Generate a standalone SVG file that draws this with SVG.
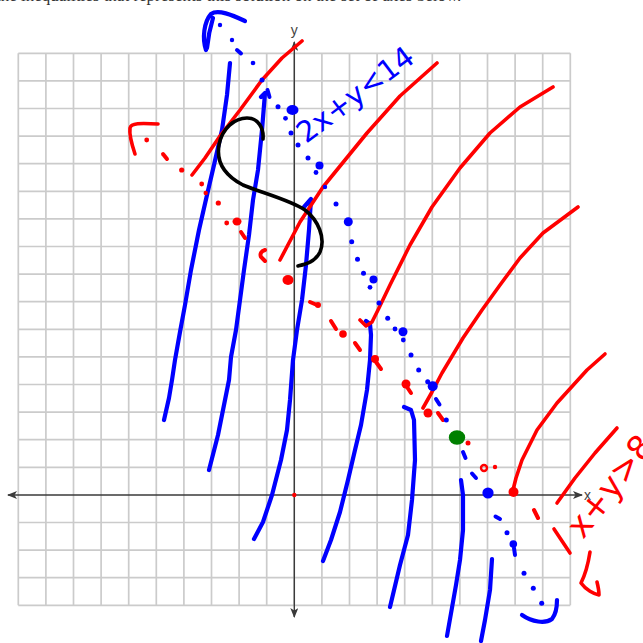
<svg xmlns="http://www.w3.org/2000/svg" width="643" height="643" viewBox="0 0 643 643">
<style>
.grid{stroke:#cbcbcb;stroke-width:1.7;fill:none}
.axis{stroke:#3a3a3a;stroke-width:1.4;fill:none}
.alab{font-family:"Liberation Sans",Arial,sans-serif;font-size:14px;fill:#444}
.blue{stroke:#0000ff;stroke-width:4.2;fill:none;stroke-linecap:round;stroke-linejoin:round}
.red{stroke:#ff0000;stroke-width:3.6;fill:none;stroke-linecap:round;stroke-linejoin:round}
.blk{stroke:#000;stroke-width:3.6;fill:none;stroke-linecap:round;stroke-linejoin:round}
.bd{fill:#0000ff}
.rd{fill:#ff0000}
.bdash{stroke:#0000ff;stroke-width:4;stroke-linecap:round;fill:none}
.rdash{stroke:#ff0000;stroke-width:4;stroke-linecap:round;fill:none}
.hand{font-family:"DejaVu Sans",sans-serif}
</style>
<defs>
<marker id="arr" viewBox="0 0 10 8" refX="9" refY="4" markerWidth="10" markerHeight="8" markerUnits="userSpaceOnUse" orient="auto-start-reverse">
<path d="M0,0 L10,4 L0,8 L2.5,4 z" fill="#3a3a3a"/>
</marker>
</defs>
<rect width="643" height="643" fill="#fff"/>
<text x="-4" y="0.5" font-family="'Liberation Serif',serif" font-size="17" fill="#333">the inequalities that represents this solution on the set of axes below.</text>

<g id="grid">
<path class="grid" d="M18.3,53.3V605.3M45.9,53.3V605.3M73.5,53.3V605.3M101.1,53.3V605.3M128.7,53.3V605.3M156.3,53.3V605.3M183.9,53.3V605.3M211.5,53.3V605.3M239.1,53.3V605.3M266.7,53.3V605.3M321.9,53.3V605.3M349.5,53.3V605.3M377.1,53.3V605.3M404.7,53.3V605.3M432.3,53.3V605.3M459.9,53.3V605.3M487.5,53.3V605.3M515.1,53.3V605.3M542.7,53.3V605.3M570.3,53.3V605.3M294.3,53.3V605.3"/>
<path class="grid" d="M18.3,53.3H570.3M18.3,80.9H570.3M18.3,108.5H570.3M18.3,136.1H570.3M18.3,163.7H570.3M18.3,191.3H570.3M18.3,218.9H570.3M18.3,246.5H570.3M18.3,274.1H570.3M18.3,301.7H570.3M18.3,329.3H570.3M18.3,356.9H570.3M18.3,384.5H570.3M18.3,412.1H570.3M18.3,439.7H570.3M18.3,467.3H570.3M18.3,522.5H570.3M18.3,550.1H570.3M18.3,577.7H570.3M18.3,605.3H570.3"/>
</g>
<g id="axes">
<line class="axis" x1="8" y1="495" x2="582" y2="495" marker-start="url(#arr)" marker-end="url(#arr)"/>
<line class="axis" x1="294.3" y1="42" x2="294.3" y2="617" marker-start="url(#arr)" marker-end="url(#arr)"/>
<text class="alab" x="584" y="500">x</text>
<text class="alab" x="294.3" y="35" text-anchor="middle">y</text>
<circle cx="294.3" cy="495" r="2.2" fill="#ff0000"/>
</g>

<g id="blue-shading">
<polyline class="blue" points="230,63 227,95 222,130 214,165 207,195 199,230 191,270 185,305 180,332 175,360 172,380 169,398 164,420"/>
<polyline class="blue" points="261,97 265,93 262,130 258,170 253,200 249,235 244,270 240,300 236,330 231,357 229,380 224,405 218,435 209,470"/>
<polyline class="blue" points="304,207 311,199 309,230 306,265 302,300 297,330 293,360 290,400 287,430 281,460 272,495 263,522 254,539"/>
<polyline class="blue" points="366,321 370,324 371,335 370,360 367,390 361,425 355,450 348,480 340,512 331,540 323,561"/>
<polyline class="blue" points="404,407 411,410 414,420 415,460 412,500 408,535 400,565 390,607"/>
<polyline class="blue" points="461,480 463,495 463,530 460,560 456,585 447,636"/>
<polyline class="blue" points="492,559 490,590 485,620 481,641"/>
<path class="blue" d="M206,50 C202,38 204,22 211,14 C218,9 232,15 245,21 M213,18 C210,28 208,38 207,48"/>
<path class="blue" d="M522,615 C532,622 545,624 552,619 C556,614 557,606 557,600"/>
</g>

<g id="red-shading">
<polyline class="red" points="192,175 205,158 220,136 240,110 262,80 282,58 302,41"/>
<polyline class="red" points="280,260 300,222 323,187 345,160 367,133 400,96 437,63"/>
<polyline class="red" points="360,320 366,326 372,322 378,310 390,285 410,245 432,207 460,168 490,133 520,107 553,87"/>
<polyline class="red" points="423,408 432,392 442,373 463,338 482,310 500,285 520,258 543,233 578,207"/>
<polyline class="red" points="513,490 516,478 522,460 537,430 557,403 587,370 605,354"/>
<polyline class="red" points="557,503 575,478 595,453 617,428"/>
<path class="red" stroke-width="4.5" d="M135,154 C132,145 129,135 130,128 C131,123 140,123 158,124"/>
<path class="red" stroke-width="4.5" d="M590,552 C588,565 585,575 581,583 C586,590 594,594 599,595 C599,590 598,586 597,582"/>
<line class="red" stroke-width="4.5" x1="554" y1="529" x2="570" y2="553"/>
</g>

<g id="red-boundary">
<circle class="rd" cx="146.7" cy="140" r="2.4"/>
<line class="rdash" x1="163" y1="154" x2="167" y2="159"/>
<circle class="rd" cx="181.7" cy="170" r="2.6"/>
<circle class="rd" cx="201.7" cy="184" r="2.4"/>
<circle class="rd" cx="205.7" cy="193" r="2.2"/>
<circle class="rd" cx="218.3" cy="203" r="2.6"/>
<circle class="rd" cx="226.7" cy="223" r="2.4"/>
<ellipse class="rd" cx="237" cy="221.5" rx="4.5" ry="4"/>
<line class="rdash" x1="241" y1="232" x2="245" y2="238"/>
<path class="rdash" d="M265,250 Q259,252 261,257 L265,261"/>
<ellipse class="rd" cx="288" cy="280" rx="5.5" ry="5"/>
<line class="rdash" x1="310" y1="302" x2="317" y2="305"/>
<circle class="rd" cx="318" cy="305" r="3"/>
<line class="rdash" x1="331" y1="321" x2="336" y2="329"/>
<circle class="rd" cx="343" cy="334" r="3.8"/>
<line class="rdash" x1="355" y1="343" x2="360" y2="350"/>
<circle class="rd" cx="375" cy="359" r="4"/>
<line class="rdash" x1="376" y1="362" x2="381" y2="369"/>
<circle class="rd" cx="406" cy="384" r="4.5"/>
<line class="rdash" x1="407" y1="387" x2="411" y2="393"/>
<circle class="rd" cx="428" cy="413" r="4.5"/>
<line class="rdash" x1="438" y1="413" x2="443" y2="420"/>
<circle class="rd" cx="468" cy="443" r="2.5"/>
<circle cx="484" cy="468" r="3" fill="none" stroke="#ff0000" stroke-width="2.4"/>
<circle class="rd" cx="495" cy="467" r="2.2"/>
<circle class="rd" cx="513.5" cy="492" r="5"/>
<line class="rdash" x1="534" y1="510" x2="538" y2="518"/>
</g>

<g id="blue-boundary">
<circle class="bd" cx="220" cy="25" r="2.2"/>
<circle class="bd" cx="232" cy="40" r="2.2"/>
<line class="bdash" x1="237" y1="50" x2="241" y2="53.5"/>
<circle class="bd" cx="253" cy="63" r="2.3"/>
<circle class="bd" cx="262" cy="80" r="2.5"/>
<line class="bdash" x1="267.5" y1="90" x2="269.5" y2="97"/>
<circle class="bd" cx="278" cy="106.7" r="2.5"/>
<ellipse class="bd" cx="292.5" cy="110" rx="6" ry="5"/>
<circle class="bd" cx="285.5" cy="118.3" r="2.4"/>
<circle class="bd" cx="291" cy="133" r="2.5"/>
<circle class="bd" cx="298" cy="145" r="2.5"/>
<circle class="bd" cx="308" cy="158" r="2.5"/>
<circle class="bd" cx="319.5" cy="165.5" r="4"/>
<circle class="bd" cx="316" cy="172.5" r="2.4"/>
<circle class="bd" cx="325" cy="187" r="2.2"/>
<circle class="bd" cx="336" cy="204" r="2.5"/>
<circle class="bd" cx="348.3" cy="221.7" r="4.5"/>
<circle class="bd" cx="351.7" cy="241.7" r="2.5"/>
<circle class="bd" cx="357.5" cy="259.3" r="2.5"/>
<circle class="bd" cx="363.5" cy="273.3" r="2.5"/>
<circle class="bd" cx="373.5" cy="279.5" r="4"/>
<circle class="bd" cx="370" cy="287.3" r="2.4"/>
<circle class="bd" cx="379" cy="303" r="2.5"/>
<circle class="bd" cx="387.7" cy="318.3" r="2.5"/>
<circle class="bd" cx="395" cy="329" r="2.4"/>
<circle class="bd" cx="403" cy="331.7" r="4.5"/>
<circle class="bd" cx="403.3" cy="340" r="2.4"/>
<circle class="bd" cx="411" cy="355" r="2.5"/>
<circle class="bd" cx="418.7" cy="370" r="2.5"/>
<circle class="bd" cx="427.7" cy="381.7" r="2.5"/>
<circle class="bd" cx="432.7" cy="386.3" r="5"/>
<line class="bdash" x1="436" y1="399" x2="439.5" y2="404.5"/>
<circle class="bd" cx="446.3" cy="420" r="2.5"/>
<line class="bdash" x1="463" y1="452" x2="465.5" y2="458"/>
<line class="bdash" x1="472" y1="473.5" x2="476" y2="478"/>
<circle class="bd" cx="488" cy="493" r="5.6"/>
<line class="bdash" x1="495.5" y1="516.5" x2="500" y2="519"/>
<circle class="bd" cx="507" cy="532.7" r="2.5"/>
<circle class="bd" cx="513.3" cy="544" r="3.8"/>
<line class="bdash" x1="514" y1="548" x2="515" y2="555"/>
<circle class="bd" cx="524" cy="573.3" r="2.5"/>
<circle class="bd" cx="533.3" cy="588.3" r="2.5"/>
<circle class="bd" cx="541.7" cy="603.3" r="2.5"/>
</g>

<g id="solution-point">
<ellipse cx="457" cy="437.5" rx="8.2" ry="7.3" fill="#008000"/>
</g>

<g id="s-mark">
<path class="blk" d="M263,139 C264,128 258,118 247,118 C235,118 222,128 219,145 C216,162 224,175 243,185 C262,193 290,200 305,210 C318,220 326,238 320,252 C315,262 306,264 298,266"/>
</g>

<g id="labels">
<text class="hand" transform="translate(306,144) rotate(-37)" font-size="29" fill="#0000ff">2x+y&lt;14</text>
<text class="hand" transform="translate(583,540) rotate(-52)" font-size="34" fill="#ff0000">x+y&gt;8</text>
</g>
</svg>
